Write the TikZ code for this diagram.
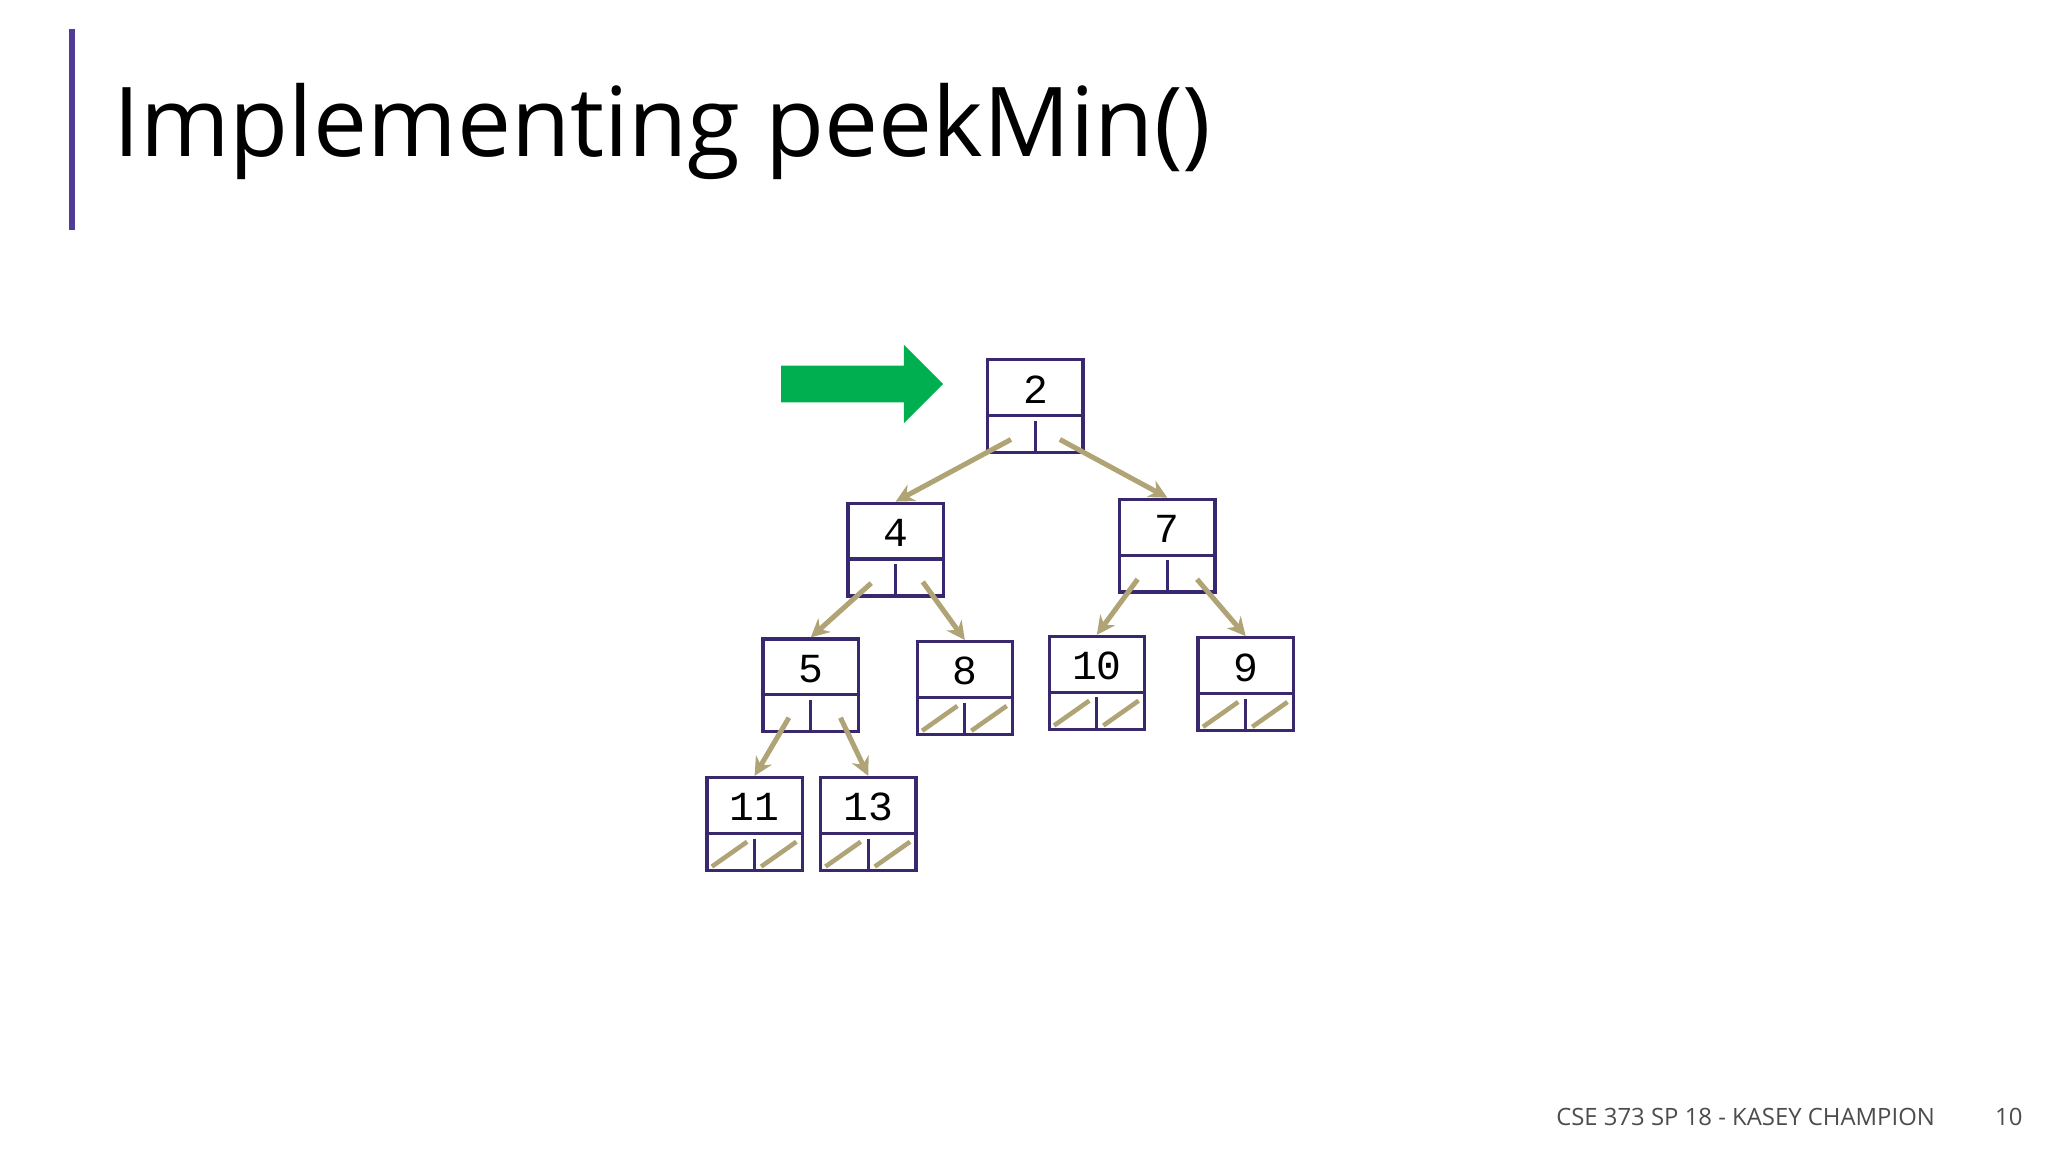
\documentclass[tikz,border=0pt]{standalone}
\usepackage{fontspec}
\setmainfont{Open Sans}
\newfontfamily\monof{Liberation Mono}
\usetikzlibrary{calc,arrows.meta}
\definecolor{boxc}{RGB}{58,40,110}
\definecolor{khaki}{RGB}{176,164,118}
\definecolor{greenarrow}{RGB}{0,176,80}
\definecolor{barc}{RGB}{80,60,150}
\tikzset{
  hbox/.style={draw=boxc,line width=0.7pt,minimum width=0.73cm,minimum height=0.71cm,anchor=north west,inner sep=0},
  ptr/.style={draw=khaki,line width=1.1pt,-{Stealth[length=4pt,width=4pt]}},
  nul/.style={draw=khaki,line width=1pt},
  num/.style={font=\monof\fontsize{9}{10}\selectfont}
}
\newcommand{\hnode}[5]{%
  \node[hbox] (#1) at (#2,#3) {};
  \draw[boxc,line width=0.7pt] ($(#1.north west)+(0,-0.44)$) -- ($(#1.north east)+(0,-0.44)$);
  \draw[boxc,line width=0.7pt] ($(#1.north)+(0,-0.48)$) -- (#1.south);
  \node[num] (#1t) at ($(#1.north)+(0,-0.24)$) {#4};
  \ifx#5l
    \draw[nul] ($(#1.south west)+(0.05,0.04)$) -- ($(#1.south west)+(0.32,0.23)$);
    \draw[nul] ($(#1.south)+(0.05,0.04)$) -- ($(#1.south)+(0.32,0.23)$);
  \fi
}
\begin{document}
\begin{tikzpicture}[x=1cm,y=1cm]
\useasboundingbox (0,0) rectangle (15.68,-8.82);
\draw[barc,line width=1.2pt] (0.55,-0.22) -- (0.55,-1.76);
\node[anchor=base west,inner sep=0,font=\fontsize{21}{24}\selectfont] (title) at (0.86,-1.2) {Implementing peekMin()};
\node[anchor=base east,inner sep=0,font=\fontsize{5.2}{6}\selectfont,text=black!70] (foot) at (14.82,-8.62) {CSE 373 SP 18 - KASEY CHAMPION};
\node[anchor=base,inner sep=0,font=\fontsize{5.2}{6}\selectfont,text=black!70] (pg) at (15.38,-8.62) {10};
\fill[greenarrow] (5.98,-2.80) -- (6.92,-2.80) -- (6.92,-2.64) -- (7.22,-2.94) -- (6.92,-3.24) -- (6.92,-3.08) -- (5.98,-3.08) -- cycle;
\hnode{n2}{7.55}{-2.74}{2}{i}
\hnode{n4}{6.48}{-3.84}{4}{i}
\hnode{n7}{8.56}{-3.81}{7}{i}
\hnode{n5}{5.83}{-4.88}{5}{i}
\hnode{n8}{7.01}{-4.90}{8}{l}
\hnode{n10}{8.02}{-4.86}{10}{l}
\hnode{n9}{9.16}{-4.87}{9}{l}
\hnode{n11}{5.40}{-5.94}{11}{l}
\hnode{n13}{6.27}{-5.94}{13}{l}
\draw[ptr] ($(n2.south west)+(0.19,0.11)$) -- (n4.north);
\draw[ptr] ($(n2.south east)+(-0.19,0.11)$) -- (n7.north);
\draw[ptr] ($(n4.south west)+(0.19,0.11)$) -- (n5.north);
\draw[ptr] ($(n4.south east)+(-0.17,0.12)$) -- (n8.north);
\draw[ptr] ($(n7.south west)+(0.15,0.11)$) -- (n10.north);
\draw[ptr] ($(n7.south east)+(-0.15,0.11)$) -- (n9.north);
\draw[ptr] ($(n5.south west)+(0.21,0.12)$) -- (n11.north);
\draw[ptr] ($(n5.south east)+(-0.15,0.12)$) -- (n13.north);
\end{tikzpicture}
\end{document}
